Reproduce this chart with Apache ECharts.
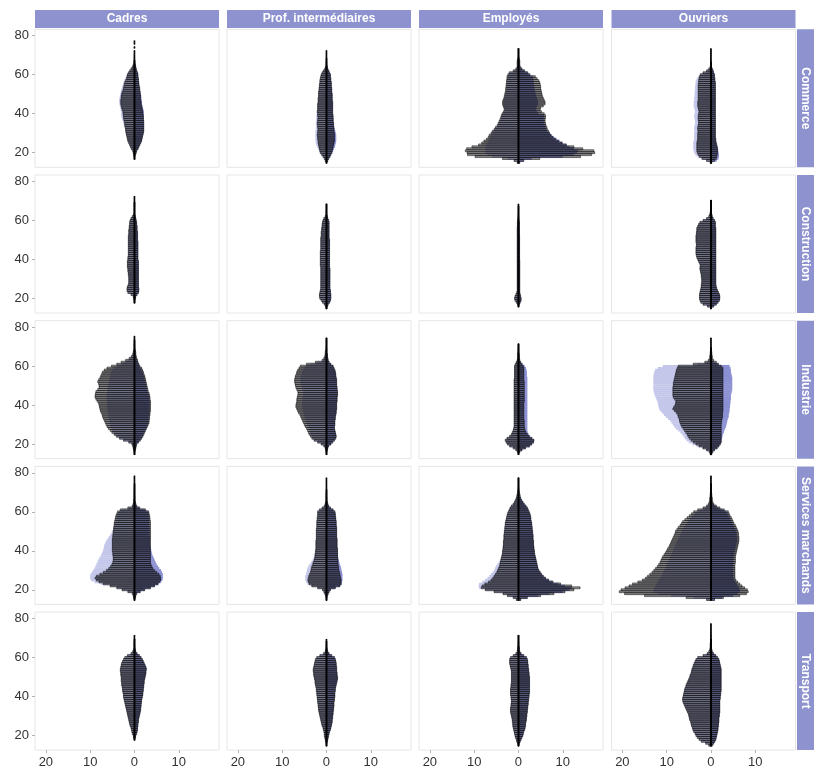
<!DOCTYPE html>
<html>
<head>
<meta charset="utf-8">
<title>Pyramides des âges par secteur et PCS</title>
<script src="https://cdn.jsdelivr.net/npm/echarts@6/dist/echarts.min.js"></script>
<style>
  html, body { margin: 0; padding: 0; background: #fff; }
  #main { width: 814px; height: 773px; }
</style>
</head>
<body>
<div id="main"></div>
<script>
// ages start at 15, one value per year of age; _h = hommes (left), _f = femmes (right)
// plain arrays = outlined bars, *_ref = light coloured pyramid underneath
var AGE0 = 15;
var sectors = ["Commerce", "Construction", "Industrie", "Services marchands", "Transport"];
var pcsList = ["Cadres", "Prof. intermédiaires", "Employés", "Ouvriers"];
var xTicks = [-20, -10, 0, 10];
var yTicks = [20, 40, 60, 80];

// --- Commerce
var com_cad_h = [0,0,0.05,0.1,0.2, 0.3,0.4,0.7,0.9,1.1, 1.3,1.5,1.6,1.7,1.8, 1.9,2.0,2.0,2.1,2.2, 2.2,2.3,2.4,2.5,2.5, 2.6,2.6,2.8,2.9,3.0, 3.1,3.1,3.1,3.0,3.0, 2.9,2.8,2.6,2.5,2.4, 2.3,2.2,2.0,1.8,1.7, 1.6,1.4,1.1,0.8,0.5, 0.3,0.15,0.1,0.1,0.1, 0.1,0.05,0.05,0,0.05, 0,0.05,0.05];
var com_cad_f = [0,0,0.05,0.1,0.2, 0.4,0.5,0.8,1.0,1.2, 1.4,1.6,1.7,1.8,1.9, 2.0,2.1,2.1,2.1,2.1, 2.1,2.1,2.0,2.0,2.0, 1.9,1.9,1.8,1.7,1.6, 1.5,1.5,1.4,1.4,1.4, 1.3,1.3,1.2,1.2,1.1, 1.0,1.0,0.9,0.9,0.8, 0.8,0.7,0.5,0.4,0.3, 0.2,0.1,0.05];
var com_cad_h_ref = [0,0,0.05,0.1,0.2, 0.3,0.4,0.7,0.9,1.1, 1.3,1.5,1.6,1.7,1.8, 1.9,2.0,2.1,2.2,2.4, 2.5,2.6,2.8,2.9,3.0, 3.0,3.0,3.1,3.2,3.3, 3.4,3.5,3.5,3.4,3.3, 3.2,3.1,3.0,2.9,2.8, 2.6,2.5,2.3,2.1,1.9, 1.7,1.4,1.0,0.7,0.4, 0.2,0.1];
var com_cad_f_ref = [0,0,0.05,0.1,0.2, 0.4,0.5,0.8,1.0,1.2, 1.4,1.6,1.7,1.8,1.9, 2.0,2.1,2.1,2.1,2.1, 2.1,2.1,2.1,2.1,2.1, 2.1,2.1,2.0,1.9,1.8, 1.7,1.7,1.6,1.5,1.5, 1.4,1.3,1.2,1.2,1.1, 1.0,1.0,0.9,0.9,0.8, 0.8,0.7,0.5,0.4,0.3, 0.2,0.1];

var com_pi_h = [0.05,0.3,0.5,0.8,1.1, 1.4,1.5,1.6,1.7,1.8, 1.9,1.9,2.0,2.0,2.1, 2.0,2.0,1.9,2.0,2.0, 2.1,2.0,2.0,1.9,2.0, 2.0,2.1,2.0,2.0,2.0, 2.0,1.9,1.9,1.9,1.8, 1.8,1.8,1.7,1.7,1.6, 1.6,1.5,1.5,1.4,1.3, 1.2,1.0,0.7,0.4,0.2, 0.1,0.1,0.05,0.05,0.05, 0.05,0.05,0.05];
var com_pi_f = [0.05,0.3,0.5,0.8,1.0, 1.2,1.3,1.4,1.5,1.6, 1.7,1.8,1.8,1.8,1.8, 1.8,1.7,1.7,1.6,1.6, 1.6,1.5,1.5,1.5,1.5, 1.4,1.4,1.4,1.4,1.4, 1.4,1.4,1.3,1.3,1.3, 1.3,1.2,1.2,1.2,1.1, 1.1,1.1,1.0,1.0,0.9, 0.9,0.7,0.5,0.3,0.2, 0.1,0.05,0.05,0.05];
var com_pi_h_ref = [0.05,0.3,0.5,0.8,1.1, 1.5,1.7,1.9,2.1,2.3, 2.4,2.5,2.5,2.5,2.5, 2.5,2.5,2.4,2.4,2.4, 2.4,2.4,2.3,2.3,2.3, 2.2,2.2,2.1,2.1,2.0, 2.0,1.9,1.9,1.9,1.8, 1.8,1.8,1.7,1.7,1.6, 1.6,1.5,1.5,1.4,1.3, 1.2,1.0,0.7,0.4,0.2, 0.1];
var com_pi_f_ref = [0.05,0.3,0.5,0.8,1.0, 1.3,1.5,1.7,1.9,2.0, 2.1,2.2,2.2,2.2,2.2, 2.1,2.0,1.9,1.8,1.7, 1.7,1.6,1.6,1.5,1.5, 1.4,1.4,1.4,1.4,1.4, 1.4,1.4,1.3,1.3,1.3, 1.3,1.2,1.2,1.2,1.1, 1.1,1.1,1.0,1.0,0.9, 0.9,0.7,0.5,0.3,0.2, 0.1];

var com_emp_h = [0.3,1.0,3.6,9.8,11.5, 11.6,12.0,11.7,10.5,9.0, 8.3,7.8,7.2,6.8,6.6, 6.2,5.9,5.5,5.2,4.8, 4.6,4.4,4.2,4.0,3.9, 3.7,3.4,3.2,3.3,3.5, 3.6,3.6,3.5,3.3,3.2, 3.1,3.0,2.9,2.9,2.8, 2.8,2.7,2.7,2.6,2.6, 2.4,2.1,1.2,0.6,0.3, 0.3,0.3,0.3,0.2,0.1, 0.05,0.05,0.05,0.05];
var com_emp_f = [0.3,1.2,4.8,14.0,16.5, 17.2,17.0,14.5,12.5,10.8, 9.8,9.0,8.3,7.7,7.3, 7.0,6.8,6.5,6.4,6.2, 6.1,6.0,6.0,6.1,6.1, 5.8,5.2,4.9,5.0,5.6, 6.0,6.0,5.8,5.6,5.4, 5.3,5.2,5.1,5.0,5.0, 4.9,4.8,4.6,4.2,3.8, 2.6,2.1,1.4,0.8,0.4, 0.3,0.3,0.3,0.2,0.1, 0.05,0.05,0.05,0.05];
var com_emp_h_ref = [0.3,1.0,2.5,6.0,7.0, 7.5,7.5,7.5,7.5,7.2, 7.0,6.8,6.5,6.3,6.1, 5.9,5.7,5.3,5.0,4.6, 4.4,4.2,4.0,3.8,3.7, 3.5,3.2,3.0,3.1,3.3, 3.4,3.4,3.3,3.1,3.0, 2.9,2.8,2.7,2.7,2.6, 2.6,2.5,2.5,2.4,2.4, 2.2,1.9,1.0,0.5,0.3, 0.2,0.2];
var com_emp_f_ref = [0.3,1.2,3.0,10.0,12.5, 13.2,13.4,12.5,11.5,10.8, 10.0,9.3,8.6,8.0,7.5, 7.0,6.5,6.2,6.1,5.9, 5.8,5.7,5.7,5.8,5.8, 4.5,4.2,4.0,4.0,4.2, 4.4,4.4,4.3,4.2,4.0, 3.9,3.8,3.7,3.6,3.6, 3.5,3.5,3.4,3.3,3.3, 2.5,2.0,1.3,0.7,0.4, 0.2,0.2];

var com_ouv_h = [0.2,1.0,2.0,2.6,2.9, 3.1,3.2,3.2,3.2,3.2, 3.2,3.1,3.0,3.0,3.0, 3.0,2.9,3.0,3.0,2.9, 2.8,2.8,2.9,2.9,2.9, 2.8,2.7,2.8,2.9,3.0, 3.0,3.0,2.9,2.9,2.9, 2.9,2.9,2.9,2.9,2.9, 2.9,2.8,2.8,2.7,2.6, 2.4,1.8,1.0,0.5,0.2, 0.1,0.1,0.1,0.1,0.1, 0.1,0.05,0.05,0.05];
var com_ouv_f = [0.2,0.8,1.2,1.3,1.4, 1.5,1.5,1.5,1.4,1.3, 1.2,1.1,1.1,1.0,1.0, 1.0,1.0,1.0,1.0,1.0, 1.0,1.0,1.0,1.0,1.0, 1.0,1.0,1.0,1.0,1.0, 1.0,1.0,1.0,1.0,1.0, 1.0,1.0,1.0,1.0,1.0, 1.0,1.0,0.9,0.9,0.8, 0.8,0.6,0.5,0.3,0.1, 0.05,0.05];
var com_ouv_h_ref = [0.2,1.0,2.2,3.0,3.5, 3.8,3.9,4.0,4.0,4.0, 4.0,3.9,3.8,3.8,3.8, 3.8,3.7,3.8,3.8,3.7, 3.6,3.6,3.7,3.8,3.8, 3.7,3.6,3.7,3.8,3.9, 3.9,3.9,3.8,3.8,3.7, 3.7,3.7,3.6,3.6,3.6, 3.5,3.5,3.4,3.2,2.9, 2.5,1.8,1.0,0.5,0.2, 0.1];
var com_ouv_f_ref = [0.2,1.3,1.7,1.8,1.8, 1.7,1.6,1.5,1.4,1.3, 1.2,1.1,1.1,1.0,1.0, 1.0,1.0,1.0,1.0,1.0, 1.0,1.0,1.0,1.0,1.0, 1.0,1.0,1.0,1.0,1.0, 1.0,1.0,1.0,1.0,1.0, 1.0,1.0,1.0,1.0,1.0, 1.0,1.0,0.9,0.9,0.8, 0.8,0.6,0.5,0.3,0.1];

// --- Construction
var con_cad_h = [0,0,0,0.05,0.1, 0.2,0.3,0.8,1.5,1.7, 1.7,1.6,1.4,1.3,1.3, 1.3,1.3,1.4,1.4,1.5, 1.5,1.6,1.6,1.6,1.6, 1.5,1.5,1.4,1.4,1.4, 1.4,1.4,1.4,1.4,1.4, 1.4,1.4,1.4,1.3,1.3, 1.3,1.2,1.2,1.1,1.1, 1.0,0.8,0.5,0.2,0.1, 0.1,0.1,0.1,0.1,0.05, 0.05,0.05,0.05];
var con_cad_f = [0,0,0,0.05,0.1, 0.2,0.3,0.6,0.9,1.0, 1.0,0.9,0.9,0.9,0.9, 0.9,0.9,0.9,0.9,0.9, 0.9,0.9,0.9,0.9,0.9, 0.8,0.8,0.8,0.8,0.8, 0.8,0.8,0.8,0.8,0.8, 0.7,0.7,0.7,0.7,0.7, 0.6,0.6,0.6,0.5,0.5, 0.4,0.3,0.2,0.1,0.05, 0.05,0.05,0.05,0.05,0.05];
var con_pi_h = [0.05,0.2,0.5,0.9,1.2, 1.5,1.6,1.6,1.5,1.4, 1.3,1.3,1.3,1.3,1.3, 1.3,1.3,1.3,1.3,1.3, 1.3,1.3,1.4,1.4,1.4, 1.4,1.4,1.4,1.4,1.4, 1.3,1.3,1.3,1.3,1.3, 1.3,1.3,1.2,1.2,1.2, 1.1,1.1,1.0,1.0,0.9, 0.8,0.6,0.3,0.1,0.1, 0.1,0.05,0.05,0.05];
var con_pi_f = [0.05,0.2,0.4,0.7,0.9, 1.0,1.0,1.0,0.9,0.9, 0.8,0.8,0.8,0.8,0.8, 0.8,0.8,0.8,0.8,0.8, 0.8,0.7,0.7,0.7,0.7, 0.7,0.7,0.7,0.7,0.7, 0.7,0.7,0.7,0.7,0.7, 0.7,0.6,0.6,0.6,0.6, 0.6,0.6,0.6,0.6,0.6, 0.5,0.3,0.2,0.1,0.05, 0.05,0.05,0.05,0.05];
var con_emp_h = [0,0.05,0.2,0.5,0.8, 0.9,0.8,0.6,0.4,0.3, 0.3,0.3,0.3,0.3,0.3, 0.3,0.3,0.3,0.3,0.3, 0.3,0.3,0.3,0.3,0.3, 0.3,0.3,0.3,0.3,0.3, 0.3,0.3,0.3,0.3,0.3, 0.3,0.3,0.3,0.3,0.3, 0.3,0.3,0.25,0.25,0.25, 0.2,0.15,0.1,0.1,0.05, 0.05,0.05,0.05,0.05];
var con_emp_f = [0,0.05,0.2,0.4,0.6, 0.6,0.5,0.4,0.3,0.3, 0.3,0.3,0.3,0.3,0.3, 0.3,0.3,0.3,0.3,0.3, 0.3,0.3,0.3,0.3,0.3, 0.25,0.25,0.25,0.25,0.25, 0.25,0.25,0.25,0.25,0.25, 0.25,0.25,0.25,0.2,0.2, 0.2,0.2,0.2,0.2,0.2, 0.15,0.1,0.1,0.05,0.05, 0.05,0.05,0.05];
var con_ouv_h = [0.1,0.8,1.8,2.3,2.5, 2.6,2.6,2.6,2.5,2.4, 2.3,2.2,2.2,2.1,2.1, 2.1,2.2,2.2,2.3,2.4, 2.5,2.5,2.4,2.6,2.8, 3.0,3.2,3.3,3.4,3.4, 3.4,3.4,3.3,3.3,3.4, 3.4,3.4,3.4,3.3,3.3, 3.2,3.2,3.0,2.8,2.5, 1.8,1.0,0.5,0.3,0.2, 0.1,0.1,0.1,0.1,0.05, 0.05];
var con_ouv_f = [0.1,0.6,1.2,1.6,1.9, 2.0,2.0,1.9,1.7,1.5, 1.3,1.2,1.1,1.1,1.1, 1.1,1.1,1.1,1.1,1.1, 1.1,1.1,1.1,1.1,1.1, 1.1,1.1,1.1,1.1,1.1, 1.1,1.1,1.1,1.1,1.1, 1.1,1.1,1.1,1.1,1.1, 1.1,1.1,1.0,1.0,1.0, 0.8,0.5,0.3,0.2,0.1, 0.05,0.05,0.05,0.05,0.05, 0.05];

// --- Industrie
var ind_cad_h = [0.05,0.1,0.2,0.3,0.4, 0.6,1.3,2.5,3.4,4.1, 4.6,5.1,5.5,5.9,6.2, 6.4,6.6,6.8,7.0,7.2, 7.3,7.5,7.7,7.8,7.9, 8.0,8.1,8.4,8.7,8.9, 8.9,8.8,8.7,8.3,8.0, 8.0,8.1,8.3,8.1,7.8, 7.6,7.4,7.2,6.8,6.2, 5.2,4.0,3.0,2.0,1.2, 0.7,0.4,0.3,0.2,0.1, 0.1,0.1,0.05,0.05,0.05, 0.05];
var ind_cad_f = [0.05,0.1,0.2,0.3,0.4, 0.5,0.9,1.3,1.6,1.9, 2.1,2.3,2.5,2.7,2.9, 3.1,3.3,3.3,3.4,3.4, 3.5,3.5,3.6,3.6,3.6, 3.6,3.6,3.6,3.5,3.5, 3.4,3.3,3.1,3.0,2.9, 2.8,2.7,2.6,2.5,2.4, 2.3,2.1,2.0,1.8,1.6, 1.2,1.0,0.8,0.7,0.5, 0.4,0.3,0.3,0.2,0.1, 0.1,0.05,0.05,0.05];
var ind_cad_h_ref = [0.05,0.1,0.2,0.3,0.4, 0.6,1.3,2.5,3.3,4.0, 4.4,4.8,5.0,5.2,5.4, 5.5,5.6,5.7,5.8,5.9, 6.0,6.0,6.1,6.1,6.2, 6.2,6.2,6.2,6.3,6.3, 6.3,6.2,6.2,6.1,6.0, 6.0,5.9,5.8,5.7,5.6, 5.5,5.4,5.2,5.0,4.6, 4.0,3.0,2.2,1.5,1.0, 0.5,0.3,0.2,0.1];
var ind_cad_f_ref = [0.05,0.1,0.2,0.3,0.4, 0.5,0.9,1.3,1.6,1.8, 2.0,2.2,2.4,2.6,2.8, 3.0,3.1,3.1,3.2,3.2, 3.3,3.3,3.4,3.4,3.4, 3.4,3.4,3.4,3.3,3.3, 3.2,3.1,2.9,2.8,2.7, 2.6,2.5,2.4,2.3,2.2, 2.1,1.9,1.8,1.6,1.4, 1.1,0.9,0.7,0.6,0.4, 0.3,0.2];

var ind_pi_h = [0.05,0.1,0.2,0.3,0.6, 1.2,2.0,2.8,3.3,3.6, 3.9,4.1,4.3,4.5,4.8, 5.0,5.2,5.4,5.6,5.8, 6.0,6.3,6.5,6.7,6.9, 6.9,6.8,6.7,6.7,6.6, 6.5,6.4,6.5,6.7,6.9, 7.0,7.1,7.2,7.2,7.1, 7.0,6.8,6.7,6.5,6.2, 5.9,4.5,2.5,1.0,0.6, 0.4,0.3,0.3,0.2,0.1, 0.1,0.05,0.05,0.05,0.05];
var ind_pi_f = [0.05,0.1,0.2,0.3,0.5, 1.0,1.4,1.8,2.1,2.2, 2.1,2.0,1.9,1.8,1.8, 1.9,1.9,1.9,2.0,2.0, 2.1,2.2,2.2,2.3,2.3, 2.3,2.3,2.4,2.4,2.4, 2.5,2.5,2.5,2.4,2.4, 2.3,2.3,2.3,2.3,2.2, 2.1,2.1,2.0,1.9,1.7, 1.5,1.0,0.6,0.4,0.3, 0.2,0.2,0.1,0.1,0.1, 0.05,0.05,0.05,0.05,0.05];
var ind_pi_h_ref = [0.05,0.1,0.2,0.3,0.6, 1.2,2.0,2.8,3.2,3.4, 3.6,3.7,3.8,3.9,4.1, 4.3,4.5,4.7,4.9,5.0, 5.1,5.2,5.3,5.4,5.5, 5.5,5.5,5.5,5.5,5.4, 5.3,5.3,5.3,5.4,5.6, 5.7,5.8,5.9,5.9,5.9, 5.8,5.6,5.5,5.3,5.0, 4.7,3.6,2.0,0.8,0.5, 0.3,0.2];

var ind_emp_h = [0.05,0.2,0.6,1.2,2.0, 2.5,2.8,3.0,2.6,2.0, 1.6,1.4,1.2,1.1,1.0, 1.0,1.0,1.0,1.0,1.0, 1.0,1.0,1.0,1.0,1.0, 1.0,1.0,1.0,1.0,1.0, 1.0,1.0,1.0,1.0,1.0, 1.0,1.0,1.0,1.0,0.9, 0.9,0.9,0.9,0.9,0.9, 0.9,0.7,0.5,0.3,0.2, 0.2,0.2,0.15,0.1,0.1, 0.05,0.05];
var ind_emp_f = [0.05,0.3,0.8,1.6,2.5, 3.0,3.4,3.5,3.0,2.4, 2.0,1.7,1.5,1.4,1.3, 1.3,1.3,1.3,1.2,1.2, 1.2,1.2,1.2,1.2,1.2, 1.2,1.2,1.3,1.3,1.3, 1.3,1.3,1.3,1.3,1.3, 1.3,1.3,1.3,1.2,1.2, 1.2,1.2,1.2,1.2,1.2, 1.1,0.8,0.5,0.3,0.2, 0.2,0.2,0.1,0.1,0.1, 0.05,0.05];
var ind_emp_f_ref = [0.05,0.3,0.8,1.6,2.5, 3.0,3.4,3.5,3.1,2.6, 2.3,2.1,2.0,2.0,2.0, 2.0,2.0,2.0,2.0,2.0, 2.0,2.0,2.0,2.0,2.0, 2.0,2.0,2.0,2.0,2.0, 2.0,2.0,2.0,2.0,2.0, 2.0,2.0,2.0,2.0,2.0, 1.9,1.9,1.9,1.8,1.7, 1.4,0.9,0.5,0.3,0.2];

var ind_ouv_h = [0.2,0.4,1.0,1.8,2.7, 3.4,4.0,4.5,4.9,5.2, 5.4,5.7,6.0,6.3,6.6, 6.8,7.0,7.1,7.2,7.4, 7.5,7.8,8.2,8.6,8.4, 8.1,8.0,7.9,8.2,8.5, 8.6,8.6,8.6,8.6,8.6, 8.5,8.5,8.4,8.3,8.2, 8.1,8.0,7.9,7.8,7.6, 7.4,4.0,1.4,0.6,0.3, 0.3,0.2,0.2,0.1,0.1, 0.1,0.05,0.05,0.05,0.05];
var ind_ouv_f = [0.2,0.4,0.8,1.4,1.8, 2.1,2.3,2.3,2.3,2.3, 2.3,2.3,2.3,2.3,2.3, 2.3,2.4,2.4,2.5,2.6, 2.6,2.6,2.7,2.7,2.7, 2.7,2.7,2.7,2.7,2.7, 2.7,2.7,2.7,2.7,2.7, 2.7,2.7,2.7,2.7,2.7, 2.7,2.7,2.7,2.7,2.7, 2.3,1.7,1.2,0.6,0.3, 0.3,0.2,0.2,0.1,0.1];
var ind_ouv_h_ref = [0.2,0.4,1.0,2.0,3.2, 4.2,5.0,5.5,5.9,6.2, 6.5,6.9,7.4,7.9,8.3, 8.6,8.9,9.2,9.7,10.2, 10.6,11.0,11.4,11.7,11.8, 11.9,12.0,12.1,12.3,12.5, 12.7,12.8,12.9,13.0,13.0, 13.0,13.0,13.0,13.0,13.0, 13.0,12.9,12.8,12.6,12.0, 10.9,3.0,1.0,0.4,0.2, 0.1];
var ind_ouv_f_ref = [0.2,0.4,0.8,1.4,1.8, 2.1,2.3,2.4,2.5,2.6, 2.7,2.9,3.0,3.2,3.4, 3.5,3.6,3.7,3.8,4.0, 4.0,4.1,4.2,4.2,4.3, 4.3,4.4,4.4,4.5,4.5, 4.5,4.6,4.7,4.8,4.8, 4.8,4.8,4.8,4.8,4.8, 4.7,4.6,4.5,4.5,4.4, 4.2,1.5,0.6,0.3,0.2];

// --- Services marchands
var sm_cad_h = [0.05,0.2,0.3,0.5,1.5, 2.8,4.0,5.5,7.0,8.0, 8.6,8.9,8.6,7.8,7.0, 6.3,5.8,5.4,5.1,4.9, 4.8,4.8,4.8,4.9,4.9, 5.0,5.0,5.0,5.0,5.0, 5.0,5.0,4.9,4.9,4.8, 4.8,4.7,4.7,4.6,4.6, 4.5,4.4,4.3,4.2,4.0, 3.8,3.2,1.5,0.5,0.3, 0.2,0.2,0.1,0.1,0.1, 0.1,0.05,0.05,0.05,0.05, 0.05,0.05,0.05,0.05];
var sm_cad_f = [0.05,0.2,0.3,0.5,1.3, 2.3,3.6,4.5,5.2,5.6, 5.9,5.9,5.8,5.5,5.0, 4.5,4.1,3.9,3.7,3.6, 3.6,3.6,3.6,3.6,3.6, 3.6,3.6,3.6,3.6,3.6, 3.6,3.6,3.6,3.6,3.6, 3.6,3.6,3.6,3.6,3.6, 3.6,3.5,3.5,3.4,3.3, 3.2,2.5,1.2,0.5,0.3, 0.2,0.1,0.1,0.1,0.05, 0.05,0.05,0.05,0.05,0.05];
var sm_cad_h_ref = [0.05,0.2,0.3,0.5,1.5, 2.8,4.0,5.5,7.5,9.0, 9.8,10.0,10.0,9.9,9.6, 9.3,9.0,8.8,8.6,8.4, 8.2,8.0,7.7,7.5,7.3, 7.1,7.0,6.9,6.8,6.6, 6.4,6.1,5.8,5.5,5.2, 5.0,4.8,4.6,4.5,4.4, 4.2,4.1,4.0,3.9,3.8, 3.5,2.8,1.2,0.4,0.2];
var sm_cad_f_ref = [0.05,0.2,0.3,0.5,1.3, 2.3,3.6,4.6,5.5,6.0, 6.3,6.4,6.4,6.4,6.2, 6.0,5.6,5.3,5.0,4.8, 4.6,4.4,4.2,4.0,3.9, 3.8,3.7,3.6,3.5,3.5, 3.5,3.5,3.5,3.4,3.4, 3.4,3.4,3.4,3.3,3.3, 3.3,3.3,3.2,3.2,3.2, 3.0,2.3,1.0,0.4,0.2];

var sm_pi_h = [0.05,0.1,0.2,0.4,0.6, 0.9,2.0,3.3,3.9,4.1, 4.2,4.1,4.0,3.8,3.6, 3.5,3.4,3.3,3.1,3.0, 2.8,2.7,2.6,2.6,2.5, 2.5,2.4,2.4,2.4,2.4, 2.4,2.3,2.3,2.3,2.3, 2.3,2.3,2.2,2.2,2.2, 2.2,2.1,2.1,2.0,2.0, 2.0,1.6,1.0,0.5,0.3, 0.2,0.1,0.1,0.1,0.1, 0.05,0.05,0.05,0.05,0.05, 0.05,0.05,0.05];
var sm_pi_f = [0.05,0.1,0.2,0.4,0.6, 0.9,2.0,3.0,3.3,3.3, 3.3,3.2,3.1,3.0,2.9, 2.8,2.7,2.7,2.6,2.6, 2.6,2.5,2.5,2.5,2.5, 2.5,2.5,2.4,2.4,2.4, 2.4,2.4,2.3,2.3,2.3, 2.3,2.3,2.3,2.2,2.2, 2.2,2.1,2.1,2.0,2.0, 1.9,1.5,0.9,0.5,0.3, 0.2,0.1,0.1,0.05,0.05, 0.05,0.05];
var sm_pi_h_ref = [0.05,0.1,0.2,0.4,0.6, 0.9,2.0,3.5,4.3,4.6, 4.8,4.8,4.8,4.6,4.5, 4.4,4.3,4.1,3.8,3.5, 3.2,3.0,2.8,2.7,2.6, 2.5,2.4,2.4,2.4,2.4, 2.4,2.3,2.3,2.3,2.3, 2.3,2.3,2.2,2.2,2.2, 2.2,2.1,2.1,2.0,2.0, 2.0,1.6,1.0,0.5,0.3];
var sm_pi_f_ref = [0.05,0.1,0.2,0.4,0.6, 0.9,2.0,3.1,3.4,3.5, 3.6,3.6,3.6,3.6,3.5, 3.4,3.3,3.2,3.0,2.9, 2.8,2.7,2.6,2.6,2.5, 2.5,2.5,2.4,2.4,2.4, 2.4,2.4,2.3,2.3,2.3, 2.3,2.3,2.3,2.2,2.2, 2.2,2.1,2.1,2.0,2.0, 1.9,1.5,0.9,0.5,0.3];

var sm_emp_h = [0.5,1.2,2.5,3.5,5.5, 7.5,8.4,8.2,7.6,6.8, 6.2,5.8,5.5,5.2,4.9, 4.7,4.5,4.3,4.2,4.1, 4.0,3.9,3.8,3.7,3.6, 3.6,3.5,3.5,3.4,3.4, 3.4,3.3,3.3,3.3,3.2, 3.2,3.1,3.1,3.0,3.0, 2.9,2.8,2.7,2.6,2.5, 2.3,2.1,1.9,1.6,1.2, 0.9,0.7,0.5,0.4,0.3, 0.2,0.15,0.1,0.1,0.05, 0.05,0.05,0.05];
var sm_emp_f = [0.5,2.0,5.0,8.0,10.5, 12.5,13.9,12.0,9.5,7.8, 6.8,6.1,5.6,5.2,4.9, 4.6,4.4,4.3,4.2,4.1, 4.0,3.9,3.8,3.7,3.6, 3.6,3.5,3.5,3.4,3.4, 3.4,3.3,3.3,3.3,3.2, 3.2,3.1,3.1,3.0,3.0, 2.9,2.8,2.8,2.7,2.6, 2.4,2.2,2.0,1.7,1.3, 1.0,0.7,0.5,0.4,0.3, 0.2,0.15,0.1,0.1,0.05, 0.05,0.05,0.05];
var sm_emp_h_ref = [0.5,1.2,2.5,3.5,5.5, 7.5,8.9,9.0,8.9,8.2, 7.6,7.0,6.6,6.2,5.8, 5.5,5.3,5.1,4.8,4.5, 4.2,4.0,3.8,3.7,3.6, 3.6,3.5,3.5,3.4,3.4, 3.4,3.3,3.3,3.3,3.2, 3.2,3.1,3.1,3.0,3.0, 2.9,2.8,2.7,2.6,2.5, 2.3,2.1,1.9,1.6,1.2, 0.9,0.7,0.5];
var sm_emp_f_ref = [0.5,2.0,4.5,7.0,10.0, 11.5,12.0,10.5,9.0,7.6, 6.8,6.1,5.6,5.2,4.9, 4.6,4.4,4.3,4.2,4.1, 4.0,3.9,3.8,3.7,3.6, 3.6,3.5,3.5,3.4,3.4, 3.4,3.3,3.3,3.3,3.2, 3.2,3.1,3.1,3.0,3.0, 2.9,2.8,2.8,2.7,2.6, 2.4,2.2,2.0,1.7,1.3, 1.0,0.7,0.5];

var sm_ouv_h = [1.0,5.6,15.0,19.5,20.7, 20.3,19.4,18.5,17.7,16.5, 15.5,14.8,14.3,13.8,13.3, 12.9,12.5,12.1,11.8,11.5, 11.3,11.1,10.9,10.6,10.3, 10.0,9.8,9.5,9.3,9.1, 8.9,8.7,8.5,8.3,8.1, 8.0,7.7,7.4,7.0,6.7, 6.4,5.9,5.4,4.9,4.4, 3.9,3.0,1.8,1.0,0.6, 0.4,0.3,0.3,0.2,0.2, 0.1,0.1,0.1,0.05,0.05, 0.05,0.05,0.05,0.05];
var sm_ouv_f = [0.8,2.8,6.5,8.0,8.4, 8.2,7.6,7.0,6.5,6.0, 5.6,5.4,5.4,5.4,5.4, 5.4,5.4,5.4,5.4,5.5, 5.5,5.5,5.5,5.6,5.7, 5.8,5.9,6.0,6.1,6.2, 6.3,6.3,6.3,6.2,6.2, 6.1,5.9,5.7,5.5,5.2, 5.0,4.8,4.6,4.3,4.1, 3.9,3.0,2.0,1.2,0.6, 0.4,0.3,0.3,0.2,0.2, 0.1,0.1,0.1,0.05,0.05];
var sm_ouv_h_ref = [1.0,4.0,9.0,12.0,13.0, 13.0,12.8,12.5,12.2,12.0, 11.8,11.5,11.2,11.0,10.8, 10.6,10.4,10.2,10.0,9.8, 9.6,9.4,9.2,9.0,8.8, 8.6,8.4,8.2,8.0,7.8, 7.6,7.4,7.2,7.0,6.8, 6.6,6.4,6.1,5.8,5.5, 5.2,4.8,4.4,4.0,3.6, 3.2,2.4,1.5,0.8,0.5];
var sm_ouv_f_ref = [0.8,2.5,5.0,6.0,6.5, 6.5,6.3,6.0,5.8,5.5, 5.2,5.0,5.0,5.0,5.0, 5.0,5.0,5.0,5.0,5.1, 5.1,5.1,5.1,5.2,5.3, 5.4,5.5,5.6,5.7,5.8, 5.9,5.9,5.9,5.8,5.8, 5.7,5.5,5.3,5.1,4.8, 4.6,4.4,4.2,3.9,3.7, 3.5,2.6,1.6,0.9,0.5];

// --- Transport
var tra_cad_h = [0,0,0,0.05,0.2, 0.3,0.5,0.6,0.7,0.8, 1.0,1.1,1.2,1.3,1.4, 1.5,1.6,1.7,1.8,1.9, 2.0,2.1,2.2,2.3,2.4, 2.5,2.5,2.6,2.7,2.7, 2.8,2.9,2.9,3.0,3.0, 3.0,3.1,3.1,3.2,3.2, 3.1,3.0,2.9,2.7,2.5, 2.2,1.6,0.8,0.4,0.2, 0.1,0.1,0.1,0.1,0.05, 0.05,0.05];
var tra_cad_f = [0,0,0,0.05,0.2, 0.3,0.5,0.6,0.7,0.7, 0.8,0.8,0.9,0.9,1.0, 1.1,1.2,1.3,1.4,1.4, 1.5,1.5,1.6,1.6,1.7, 1.8,1.9,1.9,2.0,2.0, 2.1,2.1,2.2,2.2,2.3, 2.4,2.5,2.6,2.6,2.7, 2.6,2.4,2.2,2.0,1.8, 1.5,1.1,0.6,0.3,0.2, 0.1,0.1,0.05,0.05,0.05];
var tra_pi_h = [0.05,0.1,0.2,0.3,0.4, 0.5,0.5,0.6,0.7,0.8, 1.0,1.1,1.2,1.3,1.4, 1.5,1.6,1.7,1.8,1.8, 1.9,1.9,2.0,2.0,2.1, 2.1,2.2,2.2,2.3,2.3, 2.4,2.5,2.6,2.6,2.7, 2.8,2.9,2.9,3.0,3.0, 2.9,2.8,2.7,2.6,2.5, 2.2,1.5,0.7,0.3,0.2, 0.1,0.1,0.05,0.05,0.05];
var tra_pi_f = [0.05,0.1,0.2,0.3,0.4, 0.5,0.6,0.7,0.9,1.0, 1.1,1.2,1.3,1.3,1.4, 1.4,1.5,1.5,1.6,1.6, 1.7,1.7,1.7,1.8,1.8, 1.9,1.9,1.9,2.0,2.0, 2.1,2.2,2.3,2.4,2.5, 2.5,2.4,2.4,2.3,2.3, 2.3,2.2,2.2,2.1,2.0, 1.8,1.2,0.6,0.3,0.2, 0.1,0.05,0.05,0.05];
var tra_emp_h = [0.1,0.2,0.4,0.5,0.7, 0.8,0.9,1.0,1.1,1.2, 1.3,1.3,1.4,1.4,1.5, 1.6,1.7,1.8,1.8,1.8, 1.7,1.7,1.6,1.6,1.7, 1.7,1.8,1.8,1.8,1.8, 1.7,1.7,1.6,1.6,1.6, 1.6,1.6,1.6,1.6,1.7, 1.8,1.9,2.0,2.0,2.0, 1.8,1.2,0.6,0.3,0.2, 0.2,0.1,0.1,0.1,0.05, 0.05,0.05];
var tra_emp_f = [0.1,0.2,0.4,0.6,0.8, 1.0,1.1,1.2,1.4,1.5, 1.6,1.6,1.7,1.8,1.8, 1.9,1.9,2.0,2.0,2.1, 2.1,2.2,2.2,2.3,2.3, 2.4,2.4,2.5,2.5,2.5, 2.5,2.5,2.5,2.5,2.5, 2.5,2.4,2.4,2.3,2.3, 2.2,2.2,2.1,2.1,2.0, 1.8,1.2,0.6,0.3,0.2, 0.2,0.1,0.1,0.1,0.05, 0.05,0.05];
var tra_ouv_h = [0.5,1.2,2.2,2.7,3.1, 3.4,3.6,3.9,4.1,4.2, 4.4,4.5,4.6,4.8,4.9, 5.0,5.1,5.3,5.5,5.7, 5.9,6.1,6.3,6.4,6.4, 6.3,6.2,6.1,6.0,5.9, 5.7,5.6,5.4,5.2,5.0, 4.8,4.7,4.5,4.4,4.3, 4.1,4.0,3.8,3.6,3.4, 3.0,1.8,0.9,0.5,0.3, 0.2,0.2,0.2,0.1,0.1, 0.1,0.05,0.05,0.05,0.05, 0.05,0.05,0.05];
var tra_ouv_f = [0.3,0.6,0.9,1.1,1.2, 1.3,1.4,1.5,1.6,1.6, 1.7,1.7,1.8,1.8,1.8, 1.9,1.9,2.0,2.0,2.0, 2.0,2.0,2.0,2.0,2.1, 2.1,2.2,2.2,2.3,2.3, 2.3,2.3,2.3,2.3,2.3, 2.3,2.3,2.3,2.3,2.3, 2.2,2.1,2.0,1.9,1.8, 1.5,1.1,0.6,0.3,0.2, 0.1,0.1,0.1,0.05,0.05];

// [hommes, femmes, hommes ref, femmes ref] ; a missing ref layer coincides with the outlined one
var panels = {
  "Commerce": [
    [com_cad_h, com_cad_f, com_cad_h_ref, com_cad_f_ref],
    [com_pi_h, com_pi_f, com_pi_h_ref, com_pi_f_ref],
    [com_emp_h, com_emp_f, com_emp_h_ref, com_emp_f_ref],
    [com_ouv_h, com_ouv_f, com_ouv_h_ref, com_ouv_f_ref]
  ],
  "Construction": [
    [con_cad_h, con_cad_f],
    [con_pi_h, con_pi_f],
    [con_emp_h, con_emp_f],
    [con_ouv_h, con_ouv_f]
  ],
  "Industrie": [
    [ind_cad_h, ind_cad_f, ind_cad_h_ref, ind_cad_f_ref],
    [ind_pi_h, ind_pi_f, ind_pi_h_ref],
    [ind_emp_h, ind_emp_f, null, ind_emp_f_ref],
    [ind_ouv_h, ind_ouv_f, ind_ouv_h_ref, ind_ouv_f_ref]
  ],
  "Services marchands": [
    [sm_cad_h, sm_cad_f, sm_cad_h_ref, sm_cad_f_ref],
    [sm_pi_h, sm_pi_f, sm_pi_h_ref, sm_pi_f_ref],
    [sm_emp_h, sm_emp_f, sm_emp_h_ref, sm_emp_f_ref],
    [sm_ouv_h, sm_ouv_f, sm_ouv_h_ref, sm_ouv_f_ref]
  ],
  "Transport": [
    [tra_cad_h, tra_cad_f],
    [tra_pi_h, tra_pi_f],
    [tra_emp_h, tra_emp_f],
    [tra_ouv_h, tra_ouv_f]
  ]
};

var STRIP = "#8e93cf";
var COL_H = "#c4c7ea";
var COL_F = "#8b90d3";
var FONT = "Liberation Sans, Arial, sans-serif";

function toPoints(h, f) {
  var pts = [];
  h.forEach(function (v, i) { if (v) pts.push([AGE0 + i, -v]); });
  f.forEach(function (v, i) { if (v) pts.push([AGE0 + i, v]); });
  return pts;
}

function renderRef(params, api) {
  var age = api.value(0), v = api.value(1);
  var a = api.coord([0, age + 0.5]);
  var b = api.coord([v, age - 0.5]);
  return {
    type: "rect",
    shape: { x: Math.min(a[0], b[0]), y: a[1] - 0.2, width: Math.abs(b[0] - a[0]), height: b[1] - a[1] + 0.4 },
    style: { fill: v < 0 ? COL_H : COL_F }
  };
}

function renderOuter(params, api) {
  var age = api.value(0), v = api.value(1);
  var a = api.coord([0, age + 0.5]);
  var b = api.coord([v, age - 0.5]);
  return {
    type: "group",
    children: [
      {
        type: "rect",
        shape: { x: Math.min(a[0], b[0]), y: a[1], width: Math.abs(b[0] - a[0]), height: b[1] - a[1] },
        style: { fill: "rgba(40,40,48,0.5)", stroke: "#000", lineWidth: 0.5 }
      },
      {
        type: "line",
        shape: { x1: a[0], y1: a[1], x2: a[0], y2: b[1] },
        style: { stroke: "#000", lineWidth: 1.6 }
      }
    ]
  };
}

var grids = [], xAxes = [], yAxes = [], series = [], graphics = [];
var colLeft = [35, 227, 419, 611.5];
var panelW = 184, panelH = 138;

sectors.forEach(function (sec, r) {
  var top = 29.3 + r * 145.7;
  pcsList.forEach(function (pcs, c) {
    var idx = grids.length;
    var bottomRow = r === sectors.length - 1;
    var leftCol = c === 0;
    grids.push({
      left: colLeft[c], top: top, width: panelW, height: panelH,
      show: true, borderColor: "#e6e6e6", borderWidth: 1, backgroundColor: "#fff"
    });
    xAxes.push({
      gridIndex: idx, type: "value", min: -22.45, max: 19.07,
      axisLine: { show: false, onZero: false }, splitLine: { show: false },
      axisTick: { show: bottomRow, length: 3, customValues: xTicks, lineStyle: { color: "#b3b3b3" } },
      axisLabel: {
        show: bottomRow, customValues: xTicks, margin: 6,
        color: "#333", fontSize: 13, fontFamily: FONT,
        formatter: function (v) { return String(Math.abs(v)); }
      }
    });
    yAxes.push({
      gridIndex: idx, type: "value", min: 12.5, max: 83.3,
      axisLine: { show: false, onZero: false }, splitLine: { show: false },
      axisTick: { show: leftCol, length: 3, customValues: yTicks, lineStyle: { color: "#b3b3b3" } },
      axisLabel: { show: leftCol, customValues: yTicks, margin: 6, color: "#333", fontSize: 13, fontFamily: FONT }
    });
    var d = panels[sec][c];
    var refH = d[2] || d[0], refF = d[3] || d[1];
    series.push({
      type: "custom", xAxisIndex: idx, yAxisIndex: idx, silent: true,
      renderItem: renderRef, data: toPoints(refH, refF)
    });
    series.push({
      type: "custom", xAxisIndex: idx, yAxisIndex: idx, silent: true,
      renderItem: renderOuter, data: toPoints(d[0], d[1])
    });

    if (r === 0) {
      graphics.push({
        type: "rect", shape: { x: colLeft[c], y: 10, width: panelW, height: 18 },
        style: { fill: STRIP }
      });
      graphics.push({
        type: "text", x: colLeft[c] + panelW / 2, y: 19,
        style: { text: pcs, fill: "#fff", font: "bold 12px " + FONT, textAlign: "center", textVerticalAlign: "middle" }
      });
    }
  });
  graphics.push({
    type: "rect", shape: { x: 797, y: top, width: 17, height: panelH },
    style: { fill: STRIP }
  });
  graphics.push({
    type: "text", x: 805.5, y: top + panelH / 2, rotation: -Math.PI / 2,
    style: { text: sec, fill: "#fff", font: "bold 12px " + FONT, textAlign: "center", textVerticalAlign: "middle" }
  });
});

var chart = echarts.init(document.getElementById("main"), null, { renderer: "canvas" });
chart.setOption({
  animation: false,
  backgroundColor: "#fff",
  grid: grids,
  xAxis: xAxes,
  yAxis: yAxes,
  series: series,
  graphic: graphics
});
</script>
</body>
</html>
